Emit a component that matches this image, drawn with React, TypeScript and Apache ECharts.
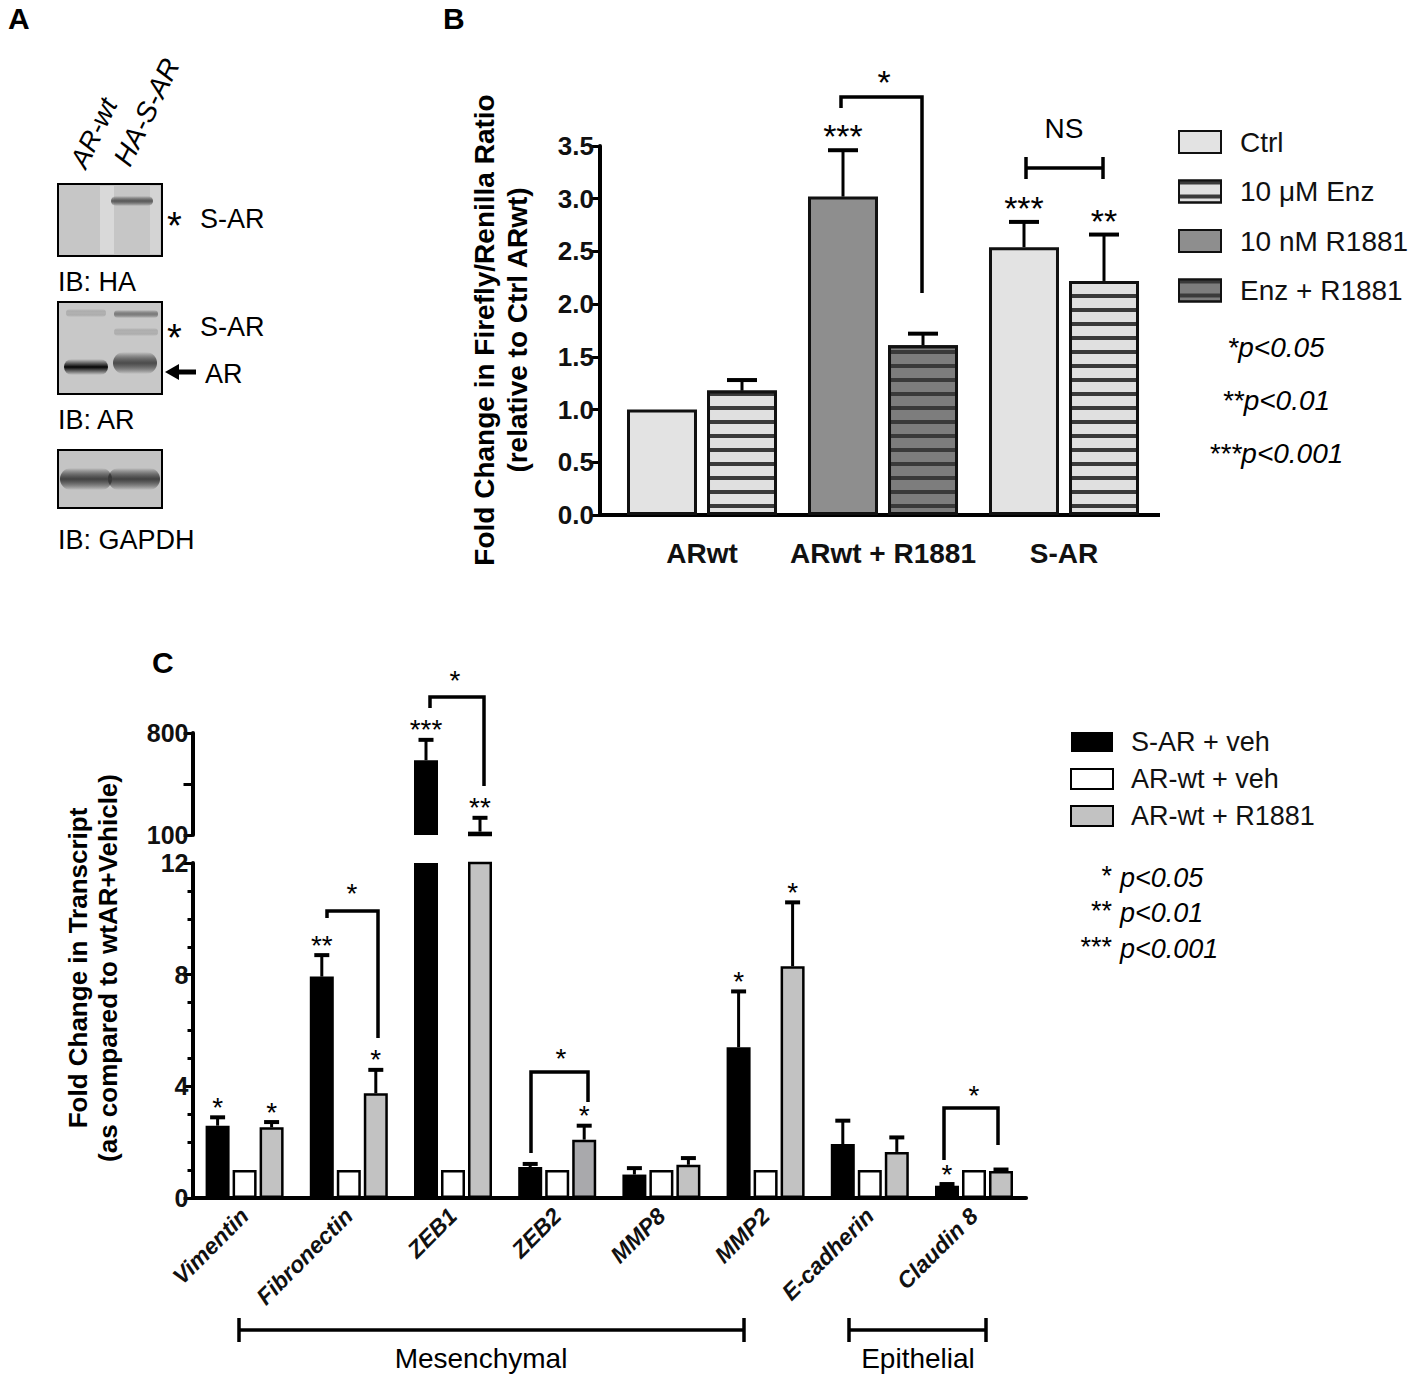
import React, { useEffect, useRef } from 'react';
import * as echarts from 'echarts';

// ---------- Panel B data ----------
const bCategories = ['ARwt', 'ARwt + R1881', 'S-AR'];
const bNames = ['Ctrl', '10 μM Enz', '10 nM R1881', 'Enz + R1881'];
const bCtrl = [1.0, '-', 2.54];
const bCtrlErr = [0, 0, 0.24];
const bCtrlSig = ['', '', '***'];
const bEnz = [1.18, '-', 2.22];
const bEnzErr = [0.1, 0, 0.44];
const bEnzSig = ['', '', '**'];
const bR1881 = ['-', 3.02, '-'];
const bR1881Err = [0, 0.44, 0];
const bR1881Sig = ['', '***', ''];
const bEnzR1881 = ['-', 1.61, '-'];
const bEnzR1881Err = [0, 0.11, 0];
const bEnzR1881Sig = ['', '', ''];

// ---------- Panel C data ----------
const cCategories = ['Vimentin', 'Fibronectin', 'ZEB1', 'ZEB2', 'MMP8', 'MMP2', 'E-cadherin', 'Claudin 8'];
const cNames = ['S-AR + veh', 'AR-wt + veh', 'AR-wt + R1881'];
const cSARveh = [2.59, 7.93, 613, 1.11, 0.84, 5.4, 1.93, 0.44];
const cSARvehErr = [0.3, 0.77, 140, 0.11, 0.23, 2.0, 0.84, 0.06];
const cSARvehSig = ['*', '**', '***', '', '', '*', '', '*'];
const cWtVeh = [1, 1, 1, 1, 1, 1, 1, 1];
const cWtR1881 = [2.53, 3.75, 123, 2.09, 1.19, 8.3, 1.65, 0.97];
const cWtR1881Err = [0.19, 0.84, 95, 0.5, 0.24, 2.29, 0.52, 0.05];
const cWtR1881Sig = ['*', '*', '**', '*', '', '*', '', ''];
const cUpperTicks = [100, 450, 800];
const cUpperLabels = [100, 800];

const SANS = "'Liberation Sans', Arial, Helvetica, sans-serif";
const NARROW = "'Liberation Sans Narrow', 'Liberation Sans', Arial, sans-serif";

const stripeDecal = {
  symbol: 'rect',
  symbolSize: 1,
  dashArrayX: [1, 0],
  dashArrayY: [4, 10],
  color: '#3a3a3a',
  rotation: 0,
};

function makeErr(offset: number, cap: number, sigs: string[], fontSize: number, starGap: number) {
  return (params: any, api: any) => {
    const ci = api.value(0) as number;
    const v = api.value(1) as number;
    const e = api.value(2) as number;
    const p0 = api.coord([ci, v]);
    const p1 = api.coord([ci, v + e]);
    const x = p0[0] + offset;
    const children: any[] = [];
    if (e > 0) {
      children.push({ type: 'line', shape: { x1: x, y1: p0[1], x2: x, y2: p1[1] }, style: { stroke: '#000', lineWidth: 3 } });
      children.push({ type: 'line', shape: { x1: x - cap / 2, y1: p1[1], x2: x + cap / 2, y2: p1[1] }, style: { stroke: '#000', lineWidth: 4 } });
    }
    const s = sigs[ci];
    if (s) {
      children.push({
        type: 'text',
        style: { text: s, x, y: p1[1] - starGap, align: 'center', verticalAlign: 'middle', fontSize, fontFamily: SANS, fill: '#000' },
      });
    }
    return { type: 'group', children };
  };
}

function errData(vals: any[], errs: number[], sigs: string[], keep: (top: number, v: number) => boolean) {
  return vals
    .map((v, i) => [i, v, errs[i]])
    .filter(([i, v, e]) => typeof v === 'number' && keep((v as number) + (e as number), v as number) && ((e as number) > 0 || sigs[i as number]));
}

function errSeries(name: string, xi: number, yi: number, data: any[], offset: number, cap: number, sigs: string[], fs: number, gap: number) {
  return {
    name,
    type: 'custom',
    xAxisIndex: xi,
    yAxisIndex: yi,
    encode: { x: 0, y: 1 },
    z: 5,
    silent: true,
    data,
    renderItem: makeErr(offset, cap, sigs, fs, gap),
  };
}

function txt(text: string, x: number, y: number, o: any = {}) {
  return {
    type: 'text',
    x,
    y,
    rotation: o.rotation || 0,
    style: {
      text,
      x: 0,
      y: 0,
      align: o.align || 'left',
      verticalAlign: o.va || 'middle',
      fontSize: o.size || 27,
      fontWeight: o.weight || 'normal',
      fontStyle: o.style || 'normal',
      fontFamily: o.family || SANS,
      fill: '#000',
    },
  };
}

function line(pts: number[][], w = 3.5) {
  return { type: 'polyline', shape: { points: pts }, style: { stroke: '#000', lineWidth: w, fill: 'none' } };
}

function band(x: number, y: number, w: number, h: number, color: string) {
  return {
    type: 'rect',
    shape: { x, y, width: w, height: h, r: h / 2 },
    style: {
      fill: new echarts.graphic.LinearGradient(0, 0, 0, 1, [
        { offset: 0, color: 'rgba(0,0,0,0)' },
        { offset: 0.5, color },
        { offset: 1, color: 'rgba(0,0,0,0)' },
      ]),
    },
  };
}

function blot(x: number, y: number, w: number, h: number, fill: string) {
  return { type: 'rect', shape: { x, y, width: w, height: h }, style: { fill, stroke: '#000', lineWidth: 2 } };
}

export default function App() {
  const ref = useRef<HTMLDivElement>(null);
  useEffect(() => {
    if (!ref.current) return;
    const chart = echarts.init(ref.current, undefined, { renderer: 'svg' });

    const axisLineStyle = { color: '#000', width: 4 };
    const tickStyle = { color: '#000', width: 3 };

    const bBar = (name: string, data: any[], stack: string, color: string, decal?: any) => ({
      name,
      type: 'bar',
      xAxisIndex: 0,
      yAxisIndex: 0,
      stack,
      barWidth: 70,
      barGap: '14.3%',
      data,
      itemStyle: { color, borderColor: '#111', borderWidth: 3, ...(decal ? { decal } : {}) },
    });

    const cStyles = [
      { color: '#000', borderColor: '#000', borderWidth: 0 },
      { color: '#fff', borderColor: '#000', borderWidth: 2.5 },
      { color: '#c2c2c2', borderColor: '#000', borderWidth: 2.5 },
    ];
    const cVals = [cSARveh, cWtVeh, cWtR1881];
    const itemize = (vals: any[], si: number) =>
      vals.map((v, i) => (si === 2 && i === 3 ? { value: v, itemStyle: { color: '#a9a9ac' } } : v));
    const cLowerBars = cVals.map((vals, si) => ({
      name: cNames[si],
      type: 'bar',
      xAxisIndex: 1,
      yAxisIndex: 1,
      barWidth: 24,
      barGap: '12.5%',
      clip: true,
      data: itemize(vals, si),
      itemStyle: cStyles[si],
    }));
    const cUpperBars = cVals.map((vals, si) => ({
      name: cNames[si],
      type: 'bar',
      xAxisIndex: 2,
      yAxisIndex: 2,
      barWidth: 24,
      barGap: '12.5%',
      clip: true,
      data: vals.map((v) => (v >= 100 ? v : '-')),
      itemStyle: cStyles[si],
    }));

    const B_STAR = 34;
    const C_STAR = 28;

    const option: any = {
      animation: false,
      backgroundColor: '#fff',
      grid: [
        { left: 611.5, top: 146, width: 543, height: 369 },
        { left: 192.5, top: 863, width: 833.6, height: 335 },
        { left: 192.5, top: 733, width: 833.6, height: 102 },
      ],
      legend: [
        {
          data: bNames,
          orient: 'vertical',
          left: 1178,
          top: 128,
          padding: 0,
          icon: 'rect',
          itemWidth: 42,
          itemHeight: 22,
          itemGap: 21.5,
          selectedMode: false,
          textStyle: { fontSize: 28, color: '#111', fontFamily: SANS, lineHeight: 28, padding: [0, 0, 0, 14] },
        },
        {
          data: cNames,
          orient: 'vertical',
          left: 1070,
          top: 728,
          padding: 0,
          icon: 'rect',
          itemWidth: 42,
          itemHeight: 20,
          itemGap: 9,
          selectedMode: false,
          textStyle: { fontSize: 27, color: '#111', fontFamily: SANS, lineHeight: 28, padding: [0, 0, 0, 13] },
        },
      ],
      xAxis: [
        {
          gridIndex: 0,
          type: 'category',
          data: bCategories,
          axisLine: { lineStyle: axisLineStyle },
          axisTick: { show: false },
          axisLabel: { interval: 0, fontSize: 28, fontWeight: 'bold', color: '#111', fontFamily: SANS, margin: 24 },
        },
        {
          gridIndex: 1,
          type: 'category',
          data: cCategories,
          axisLine: { lineStyle: axisLineStyle },
          axisTick: { alignWithLabel: true, length: 10, lineStyle: tickStyle },
          axisLabel: { interval: 0, rotate: 45, fontSize: 23, fontWeight: 'bold', fontStyle: 'italic', color: '#111', fontFamily: SANS, margin: 14 },
        },
        { gridIndex: 2, type: 'category', data: cCategories, show: false },
      ],
      yAxis: [
        {
          gridIndex: 0,
          type: 'value',
          min: 0,
          max: 3.5,
          interval: 0.5,
          offset: 11.5,
          axisLine: { show: true, lineStyle: axisLineStyle },
          axisTick: { show: true, length: 9, lineStyle: tickStyle },
          splitLine: { show: false },
          axisLabel: { formatter: (v: number) => v.toFixed(1), fontSize: 26, fontWeight: 'bold', color: '#111', fontFamily: NARROW, margin: 6 },
        },
        {
          gridIndex: 1,
          type: 'value',
          min: 0,
          max: 12,
          interval: 4,
          axisLine: { show: true, lineStyle: axisLineStyle },
          axisTick: { show: true, length: 9, lineStyle: tickStyle },
          minorTick: { show: true, splitNumber: 4, length: 5, lineStyle: tickStyle },
          splitLine: { show: false },
          minorSplitLine: { show: false },
          axisLabel: { fontSize: 25, fontWeight: 'bold', color: '#111', fontFamily: NARROW, margin: 4 },
        },
        {
          gridIndex: 2,
          type: 'value',
          min: 100,
          max: 800,
          axisLine: { show: true, lineStyle: axisLineStyle },
          axisTick: { show: true, length: 9, lineStyle: tickStyle, customValues: cUpperTicks },
          splitLine: { show: false },
          axisLabel: { customValues: cUpperLabels, fontSize: 25, fontWeight: 'bold', color: '#111', fontFamily: NARROW, margin: 4 },
        },
      ],
      series: [
        bBar(bNames[0], bCtrl, 'left', '#e3e3e3'),
        bBar(bNames[1], bEnz, 'right', '#e0e0e0', stripeDecal),
        bBar(bNames[2], bR1881, 'left', '#8e8e8e'),
        bBar(bNames[3], bEnzR1881, 'right', '#7d7d7d', stripeDecal),
        errSeries('eB0', 0, 0, errData(bCtrl, bCtrlErr, bCtrlSig, () => true), -40, 30, bCtrlSig, B_STAR, 14),
        errSeries('eB1', 0, 0, errData(bEnz, bEnzErr, bEnzSig, () => true), 40, 30, bEnzSig, B_STAR, 14),
        errSeries('eB2', 0, 0, errData(bR1881, bR1881Err, bR1881Sig, () => true), -40, 30, bR1881Sig, B_STAR, 14),
        errSeries('eB3', 0, 0, errData(bEnzR1881, bEnzR1881Err, bEnzR1881Sig, () => true), 40, 30, bEnzR1881Sig, B_STAR, 14),
        ...cLowerBars,
        ...cUpperBars,
        errSeries('eC0', 1, 1, errData(cSARveh, cSARvehErr, cSARvehSig, (t) => t <= 12), -27, 15, cSARvehSig, C_STAR, 10),
        errSeries('eC2', 1, 1, errData(cWtR1881, cWtR1881Err, cWtR1881Sig, (t) => t <= 12), 27, 15, cWtR1881Sig, C_STAR, 10),
        errSeries('eU0', 2, 2, errData(cSARveh, cSARvehErr, cSARvehSig, (t, v) => v >= 100), -27, 15, cSARvehSig, C_STAR, 10),
        errSeries('eU2', 2, 2, errData(cWtR1881, cWtR1881Err, cWtR1881Sig, (t, v) => v >= 100), 27, 15, cWtR1881Sig, C_STAR, 10),
      ],
      graphic: [
        // panel letters
        txt('A', 8, 18, { size: 30, weight: 'bold' }),
        txt('B', 443, 18, { size: 30, weight: 'bold' }),
        txt('C', 152, 662, { size: 30, weight: 'bold' }),
        // ---- Panel A ----
        txt('AR-wt', 90, 172, { rotation: (64 * Math.PI) / 180, va: 'bottom', style: 'italic', size: 27 }),
        txt('HA-S-AR', 134, 170, { rotation: (64 * Math.PI) / 180, va: 'bottom', style: 'italic', size: 28 }),
        blot(58, 184, 104, 72, '#c6c6c6'),
        { type: 'rect', shape: { x: 100, y: 186, width: 14, height: 68 }, style: { fill: 'rgba(230,230,230,0.6)' } },
        { type: 'rect', shape: { x: 150, y: 186, width: 10, height: 68 }, style: { fill: 'rgba(225,225,225,0.5)' } },
        band(111, 196, 42, 10, 'rgba(70,70,70,0.85)'),
        txt('*', 167, 226, { size: 38 }),
        txt('S-AR', 200, 219, { size: 27 }),
        txt('IB: HA', 58, 282, { size: 27 }),
        blot(58, 302, 104, 92, '#c8c8c8'),
        band(66, 309, 40, 8, 'rgba(150,150,150,0.4)'),
        band(114, 310, 44, 8, 'rgba(90,90,90,0.7)'),
        band(114, 328, 44, 8, 'rgba(150,150,150,0.4)'),
        band(64, 359, 44, 16, 'rgba(5,5,5,1)'),
        band(113, 352, 44, 22, 'rgba(70,70,70,0.95)'),
        txt('*', 167, 338, { size: 38 }),
        txt('S-AR', 200, 327, { size: 27 }),
        { type: 'line', shape: { x1: 176, y1: 372, x2: 196, y2: 372 }, style: { stroke: '#000', lineWidth: 5 } },
        { type: 'polygon', shape: { points: [[165, 372], [179, 364], [179, 380]] }, style: { fill: '#000' } },
        txt('AR', 205, 374, { size: 27 }),
        txt('IB: AR', 58, 420, { size: 27 }),
        blot(58, 450, 104, 58, '#c4c4c4'),
        band(60, 468, 52, 22, 'rgba(60,60,60,0.95)'),
        band(108, 468, 52, 22, 'rgba(60,60,60,0.95)'),
        txt('IB: GAPDH', 58, 540, { size: 27 }),
        // ---- Panel B ----
        { type: 'line', shape: { x1: 598, y1: 515, x2: 1160, y2: 515 }, style: { stroke: '#000', lineWidth: 4 } },
        txt('Fold Change in Firefly/Renilla Ratio', 484, 330, { rotation: Math.PI / 2, align: 'center', size: 28, weight: 'bold' }),
        txt('(relative to Ctrl ARwt)', 517, 330, { rotation: Math.PI / 2, align: 'center', size: 28, weight: 'bold' }),
        line([[841, 108], [841, 97], [922, 97], [922, 293]]),
        txt('*', 884, 82, { align: 'center', size: B_STAR }),
        line([[1026, 168], [1103, 168]]),
        line([[1026, 157], [1026, 179]]),
        line([[1103, 157], [1103, 179]]),
        txt('NS', 1064, 128, { align: 'center', size: 28, family: NARROW }),
        txt('*p<0.05', 1276, 347, { align: 'center', size: 28, style: 'italic' }),
        txt('**p<0.01', 1276, 400, { align: 'center', size: 28, style: 'italic' }),
        txt('***p<0.001', 1276, 453, { align: 'center', size: 28, style: 'italic' }),
        // ---- Panel C ----
        txt('Fold Change in Transcript', 78, 968, { rotation: Math.PI / 2, align: 'center', size: 26, weight: 'bold' }),
        txt('(as compared to wtAR+Vehicle)', 108, 968, { rotation: Math.PI / 2, align: 'center', size: 26, weight: 'bold' }),
        line([[430, 708], [430, 697], [484, 697], [484, 786]]),
        txt('*', 455, 680, { align: 'center', size: C_STAR }),
        line([[327, 918], [327, 911], [378, 911], [378, 1038]]),
        txt('*', 352, 893, { align: 'center', size: C_STAR }),
        line([[531, 1153], [531, 1072], [588, 1072], [588, 1102]]),
        txt('*', 561, 1058, { align: 'center', size: C_STAR }),
        line([[944, 1160], [944, 1108], [998, 1108], [998, 1145]]),
        txt('*', 974, 1095, { align: 'center', size: C_STAR }),
        txt('*', 1112, 876, { align: 'right', size: 27 }),
        txt('p<0.05', 1120, 878, { size: 27, style: 'italic' }),
        txt('**', 1112, 911, { align: 'right', size: 27 }),
        txt('p<0.01', 1120, 913, { size: 27, style: 'italic' }),
        txt('***', 1112, 947, { align: 'right', size: 27 }),
        txt('p<0.001', 1120, 949, { size: 27, style: 'italic' }),
        line([[239, 1330], [744, 1330]]),
        line([[239, 1318], [239, 1342]]),
        line([[744, 1318], [744, 1342]]),
        txt('Mesenchymal', 481, 1358, { align: 'center', size: 28 }),
        line([[849, 1330], [986, 1330]]),
        line([[849, 1318], [849, 1342]]),
        line([[986, 1318], [986, 1342]]),
        txt('Epithelial', 918, 1358, { align: 'center', size: 28 }),
      ],
    };
    chart.setOption(option);
    return () => chart.dispose();
  }, []);
  return <div ref={ref} style={{ position: 'absolute', left: 0, top: 0, width: 1418, height: 1376, background: '#fff' }} />;
}
